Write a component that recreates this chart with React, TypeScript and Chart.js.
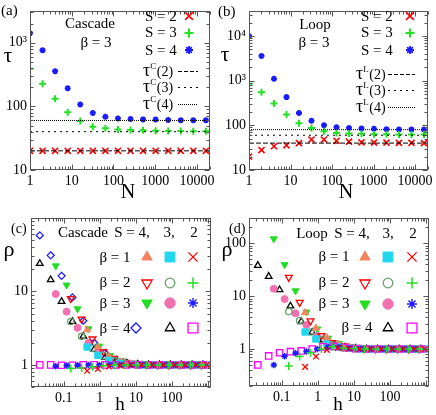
import React, { useEffect, useRef } from 'react';
import { Chart, registerables } from 'chart.js';
Chart.register(...registerables);

const FONT = "'Liberation Serif','Times New Roman',Times,serif";

// ---------- Panels (a), (b): tau vs N ----------
const N_VALUES = [1, 2, 4, 8, 16, 32, 64, 128, 256, 512, 1024, 2048, 4096, 8192, 16384];
const CASCADE_S2 = [20, 20, 20, 20, 20, 20, 20, 20, 20, 20, 20, 20, 20, 20, 20];
const CASCADE_S3 = [391, 226, 132, 80.5, 59, 48, 45.4, 43.4, 42.4, 42, 41.5, 41, 41, 40.5, 40.5];
const CASCADE_S4 = [1410, 760, 357, 192, 107, 78.7, 68.5, 64.6, 63.2, 62.4, 61.9, 61, 60.5, 60.5, 60.5];
const CASCADE_TAU = [20, 40, 60];
const LOOP_S2 = [20, 28, 34, 35.7, 40, 48, 48, 45, 43, 41.5, 41, 41, 40.5, 40.5, 40];
const LOOP_S3 = [850, 547, 309, 174, 112, 87.6, 73.4, 67.6, 65.4, 64.4, 63.5, 63, 62, 62, 62];
const LOOP_S4 = [10000, 3575, 1100, 428, 189, 126, 101, 90.6, 87.6, 85, 83.4, 82, 81, 81, 80.5];
const LOOP_TAU = [40, 60, 80];

// ---------- Panels (c), (d): rho vs h ----------
const H_BETA4 = [0.0219, 0.0438, 0.0876, 0.175, 0.35, 0.7, 1.4, 2.8, 5.6, 11.2, 22.4, 44.9, 89.7, 179, 359, 718];
const H_BETA3 = [0.0607, 0.121, 0.243, 0.486, 0.97, 1.94, 3.9, 7.8, 15.5, 31, 62, 124, 249, 497];
const H_BETA2 = [0.158, 0.316, 0.63, 1.26, 2.5, 5.1, 10.1, 20, 40, 81, 162, 324, 648];
const H_BETA1 = [0.447, 0.89, 1.79, 3.6, 7.2, 14.3, 29, 57, 114, 229, 458, 916];

const C_B4S4 = [58, 31, 16.3, 8.3, 4.0, 2.0, 1.45, 1.18, 1.06, 1.02, 1.0, 1.0, 1.0, 1.0, 1.0, 1.0];
const C_B4S3 = [24, 14.4, 7.3, 3.9, 2.45, 1.62, 1.27, 1.12, 1.05, 1.02, 1.0, 1.0, 1.0, 1.0, 1.0, 1.0];
const C_B4S2 = [1.0, 1.0, 0.99, 0.99, 1.0, 1.0, 1.0, 1.0, 1.0, 1.0, 1.0, 1.0, 1.0, 1.0, 1.0, 1.0];
const C_B3S4 = [22.3, 12.2, 5.8, 3.1, 1.8, 1.34, 1.15, 1.06, 1.02, 1.0, 1.0, 1.0, 1.0, 1.0];
const C_B3S3 = [9.2, 5.3, 3.2, 2.0, 1.5, 1.23, 1.1, 1.04, 1.01, 1.0, 1.0, 1.0, 1.0, 1.0];
const C_B3S2 = [0.96, 0.98, 0.99, 1.0, 1.0, 1.0, 1.0, 1.0, 1.0, 1.0, 1.0, 1.0, 1.0, 1.0];
const C_B2S4 = [8.0, 4.2, 2.25, 1.52, 1.23, 1.08, 1.03, 1.01, 1.0, 1.0, 1.0, 1.0, 1.0];
const C_B2S3 = [3.9, 2.45, 1.68, 1.34, 1.15, 1.05, 1.02, 1.0, 1.0, 1.0, 1.0, 1.0, 1.0];
const C_B2S2 = [0.89, 0.91, 0.94, 0.97, 0.99, 1.0, 1.0, 1.0, 1.0, 1.0, 1.0, 1.0, 1.0];
const C_B1S4 = [3.0, 1.75, 1.3, 1.1, 1.03, 1.01, 1.0, 1.0, 1.0, 1.0, 1.0, 1.0];
const C_B1S3 = [1.75, 1.35, 1.15, 1.05, 1.01, 1.0, 1.0, 1.0, 1.0, 1.0, 1.0, 1.0];
const C_B1S2 = [0.83, 0.88, 0.95, 0.98, 1.0, 1.0, 1.0, 1.0, 1.0, 1.0, 1.0, 1.0];

const D_B4S3 = [38, 23.6, 13.2, 6.5, 3.3, 2.07, 1.48, 1.2, 1.08, 1.03, 1.0, 1.0, 1.0, 1.0, 1.0, 1.0];
const D_B4S2 = [0.5, 0.74, 0.85, 0.89, 0.92, 1.0, 1.1, 1.12, 1.06, 1.02, 1.0, 1.0, 1.0, 1.0, 1.0, 1.0];
const D_B3S4 = [121, 39.4, 12.6, 5.0, 2.4, 1.6, 1.28, 1.12, 1.05, 1.02, 1.0, 1.0, 1.0, 1.0];
const D_B3S3 = [13.8, 8.8, 4.75, 2.85, 1.76, 1.34, 1.15, 1.06, 1.02, 1.0, 1.0, 1.0, 1.0, 1.0];
const D_B3S2 = [0.5, 0.73, 0.83, 0.9, 1.0, 1.08, 1.08, 1.04, 1.01, 1.0, 1.0, 1.0, 1.0, 1.0];
const D_B2S4 = [22.6, 7.6, 3.4, 1.8, 1.32, 1.15, 1.06, 1.02, 1.0, 1.0, 1.0, 1.0, 1.0];
const D_B2S3 = [5.1, 3.45, 2.1, 1.48, 1.2, 1.08, 1.03, 1.0, 1.0, 1.0, 1.0, 1.0, 1.0];
const D_B2S2 = [0.48, 0.72, 0.85, 1.0, 1.1, 1.05, 1.02, 1.0, 1.0, 1.0, 1.0, 1.0, 1.0];
const D_B1S4 = [4.9, 2.5, 1.64, 1.25, 1.1, 1.03, 1.0, 1.0, 1.0, 1.0, 1.0, 1.0];
const D_B1S3 = [2.1, 1.55, 1.25, 1.1, 1.03, 1.0, 1.0, 1.0, 1.0, 1.0, 1.0, 1.0];
const D_B1S2 = [0.46, 0.72, 0.96, 1.05, 1.02, 1.0, 1.0, 1.0, 1.0, 1.0, 1.0, 1.0];

// tick labels
const N_TICKS: Record<number, string> = { 1: '1', 10: '10', 100: '100', 1000: '1000', 10000: '10000' };
const TAU_A_TICKS: Record<number, string> = { 10: '10', 100: '100', 1000: '10³' };
const TAU_B_TICKS: Record<number, string> = { 10: '10', 100: '100', 1000: '10³', 10000: '10⁴' };
const H_TICKS: Record<number, string> = { 0.1: '0.1', 1: '1', 10: '10', 100: '100' };
const RHO_C_TICKS: Record<number, string> = { 1: '1', 10: '10' };
const RHO_D_TICKS: Record<number, string> = { 1: '1', 10: '10', 100: '100' };

type Mk = { style: string; rotation?: number; fill: string; stroke: string; lw: number; r: number; lr: number };
const NONE = 'rgba(0,0,0,0)';
const MK: Record<string, Mk> = {
  s2: { style: 'crossRot', fill: NONE, stroke: '#ff0000', lw: 1.6, r: 4.3, lr: 5.5 },
  s3: { style: 'cross', fill: NONE, stroke: '#22e022', lw: 2, r: 3.5, lr: 4.5 },
  s4: { style: 'star', fill: NONE, stroke: '#1a1aff', lw: 1.8, r: 3, lr: 4 },
  b1s4: { style: 'triangle', fill: '#f4845f', stroke: '#f4845f', lw: 1, r: 4, lr: 6 },
  b1s3: { style: 'rect', fill: '#22d6ee', stroke: '#22d6ee', lw: 1, r: 4.5, lr: 7 },
  b1s2: { style: 'crossRot', fill: NONE, stroke: '#ff0000', lw: 1.3, r: 4, lr: 6.5 },
  b2s4: { style: 'triangle', rotation: 180, fill: NONE, stroke: '#ff0000', lw: 1.3, r: 4, lr: 6 },
  b2s3: { style: 'circle', fill: NONE, stroke: '#6b9e6b', lw: 1.3, r: 3.2, lr: 4.8 },
  b2s2: { style: 'cross', fill: NONE, stroke: '#22dd22', lw: 1.5, r: 4, lr: 5.5 },
  b3s4: { style: 'triangle', rotation: 180, fill: '#22dd22', stroke: '#22dd22', lw: 1, r: 4, lr: 6 },
  b3s3: { style: 'circle', fill: '#f070b0', stroke: '#f070b0', lw: 1, r: 3.5, lr: 5.2 },
  b3s2: { style: 'star', fill: NONE, stroke: '#1a1aff', lw: 1.4, r: 3.2, lr: 5 },
  b4s4: { style: 'rectRot', fill: NONE, stroke: '#1a1aff', lw: 1.3, r: 3.5, lr: 5 },
  b4s3: { style: 'triangle', fill: NONE, stroke: '#000000', lw: 1.3, r: 3.8, lr: 5.5 },
  b4s2: { style: 'rect', fill: NONE, stroke: '#ff00ff', lw: 1.3, r: 4.5, lr: 7 },
};

function drawMarker(ctx: CanvasRenderingContext2D, m: Mk, x: number, y: number, r: number) {
  ctx.save();
  ctx.translate(x, y);
  if (m.rotation) ctx.rotate((m.rotation * Math.PI) / 180);
  ctx.lineWidth = m.lw;
  ctx.strokeStyle = m.stroke;
  ctx.fillStyle = m.fill;
  ctx.setLineDash([]);
  ctx.beginPath();
  const c = Math.SQRT1_2 * r;
  switch (m.style) {
    case 'circle': ctx.arc(0, 0, r, 0, Math.PI * 2); break;
    case 'triangle':
      ctx.moveTo(0, -r);
      ctx.lineTo(r * Math.sin((2 * Math.PI) / 3), -r * Math.cos((2 * Math.PI) / 3));
      ctx.lineTo(r * Math.sin((4 * Math.PI) / 3), -r * Math.cos((4 * Math.PI) / 3));
      ctx.closePath();
      break;
    case 'rect': ctx.rect(-c, -c, 2 * c, 2 * c); break;
    case 'rectRot': ctx.moveTo(-r, 0); ctx.lineTo(0, -r); ctx.lineTo(r, 0); ctx.lineTo(0, r); ctx.closePath(); break;
    case 'cross': ctx.moveTo(0, -r); ctx.lineTo(0, r); ctx.moveTo(-r, 0); ctx.lineTo(r, 0); break;
    case 'crossRot': ctx.moveTo(-c, -c); ctx.lineTo(c, c); ctx.moveTo(c, -c); ctx.lineTo(-c, c); break;
    case 'star':
      ctx.moveTo(0, -r); ctx.lineTo(0, r); ctx.moveTo(-r, 0); ctx.lineTo(r, 0);
      ctx.moveTo(-c, -c); ctx.lineTo(c, c); ctx.moveTo(c, -c); ctx.lineTo(-c, c);
      break;
  }
  if (['circle', 'triangle', 'rect', 'rectRot'].includes(m.style) && m.fill !== NONE) ctx.fill();
  ctx.stroke();
  ctx.restore();
}

type Txt = { t: string; x: number; y: number; s: number; a?: CanvasTextAlign };
type LegMk = { k: string; x: number; y: number };
type TauLab = { x: number; y: number; sup: string; arg: string; dash: number[]; x1: number; x2: number };

type PanelCfg = {
  left: number; top: number; w: number; h: number;
  area: { l: number; r: number; t: number; b: number };
  x: { min: number; max: number; labels: Record<number, string> };
  y: { min: number; max: number; labels: Record<number, string> };
  datasets: any[];
  texts: Txt[];
  markers: LegMk[];
  taus: TauLab[];
};

const pts = (xs: number[], ys: number[]) => xs.map((x, i) => ({ x, y: ys[i] }));
const markDs = (xs: number[], ys: number[], k: string) => {
  const m = MK[k];
  return {
    data: pts(xs, ys), showLine: false,
    pointStyle: m.style, pointRotation: m.rotation || 0, pointRadius: m.r, pointHoverRadius: m.r,
    pointBackgroundColor: m.fill, pointBorderColor: m.stroke, pointBorderWidth: m.lw,
  };
};
const lineDs = (xmin: number, xmax: number, y: number, dash: number[]) => ({
  data: [{ x: xmin, y }, { x: xmax, y }], showLine: true, borderColor: '#000', borderWidth: 1,
  borderDash: dash, pointRadius: 0, fill: false,
});

function logTicks(min: number, max: number) {
  const out: [number, boolean][] = [];
  for (let d = Math.floor(Math.log10(min)) - 1; d <= Math.ceil(Math.log10(max)); d++) {
    for (let m = 1; m <= 9; m++) {
      const v = m * Math.pow(10, d);
      if (v >= min * 0.9999 && v <= max * 1.0001) out.push([v, m === 1]);
    }
  }
  return out;
}

function makeDeco(cfg: PanelCfg) {
  return {
    id: 'deco',
    afterDatasetsDraw(chart: any) {
      const ctx: CanvasRenderingContext2D = chart.ctx;
      const a = chart.chartArea;
      const L = Math.round(a.left) + 0.5, R = Math.round(a.right) - 0.5;
      const T = Math.round(a.top) + 0.5, B = Math.round(a.bottom) - 0.5;
      ctx.save();
      ctx.strokeStyle = '#555';
      ctx.lineWidth = 1;
      ctx.setLineDash([]);
      ctx.strokeRect(L, T, R - L, B - T);
      const xs = chart.scales.x, ys = chart.scales.y;
      ctx.beginPath();
      for (const [v, major] of logTicks(cfg.x.min, cfg.x.max)) {
        const p = Math.round(xs.getPixelForValue(v)) + 0.5;
        const len = major ? 5 : 3;
        ctx.moveTo(p, B); ctx.lineTo(p, B - len);
        ctx.moveTo(p, T); ctx.lineTo(p, T + len);
      }
      for (const [v, major] of logTicks(cfg.y.min, cfg.y.max)) {
        const p = Math.round(ys.getPixelForValue(v)) + 0.5;
        const len = major ? 5 : 3;
        ctx.moveTo(L, p); ctx.lineTo(L + len, p);
        ctx.moveTo(R, p); ctx.lineTo(R - len, p);
      }
      ctx.stroke();

      ctx.fillStyle = '#000';
      ctx.textBaseline = 'middle';
      for (const t of cfg.texts) {
        ctx.font = `${t.s}px ${FONT}`;
        ctx.textAlign = t.a || 'center';
        ctx.fillText(t.t, t.x, t.y);
      }
      for (const m of cfg.markers) drawMarker(ctx, MK[m.k], m.x, m.y, MK[m.k].lr);
      for (const lab of cfg.taus) {
        let x = lab.x;
        const base = lab.y + 5;
        ctx.textAlign = 'left';
        ctx.textBaseline = 'alphabetic';
        ctx.fillStyle = '#000';
        ctx.font = `18px ${FONT}`;
        ctx.fillText('τ', x, base);
        x += ctx.measureText('τ').width;
        ctx.font = `9px ${FONT}`;
        ctx.fillText(lab.sup, x, base - 7);
        x += ctx.measureText(lab.sup).width + 0.5;
        ctx.font = `14px ${FONT}`;
        ctx.fillText(lab.arg, x, base);
        ctx.strokeStyle = '#000';
        ctx.lineWidth = 1;
        ctx.setLineDash(lab.dash);
        ctx.beginPath();
        ctx.moveTo(lab.x1, Math.round(lab.y) + 0.5);
        ctx.lineTo(lab.x2, Math.round(lab.y) + 0.5);
        ctx.stroke();
        ctx.setLineDash([]);
      }
      ctx.restore();
    },
  };
}

function buildConfig(cfg: PanelCfg): any {
  const axis = (spec: { min: number; max: number; labels: Record<number, string> }, isX: boolean) => ({
    type: 'logarithmic',
    min: spec.min,
    max: spec.max,
    grid: { display: false, drawTicks: false },
    border: { display: false },
    afterBuildTicks: (s: any) => {
      s.ticks = Object.keys(spec.labels).map((k) => ({ value: Number(k) }));
    },
    afterFit: (s: any) => {
      if (isX) s.height = cfg.h - cfg.area.b;
      else s.width = cfg.area.l;
    },
    ticks: {
      autoSkip: false,
      maxRotation: 0,
      minRotation: 0,
      padding: 3,
      color: '#000',
      font: { family: FONT, size: 14 },
      callback: (v: any) => {
        const key = Object.keys(spec.labels).find((k) => Math.abs(Number(k) - Number(v)) / Number(k) < 1e-6);
        return key !== undefined ? spec.labels[Number(key)] : '';
      },
    },
  });
  return {
    type: 'scatter',
    data: { datasets: cfg.datasets },
    options: {
      responsive: false,
      animation: false,
      devicePixelRatio: 1,
      layout: { autoPadding: false, padding: { left: 0, top: cfg.area.t, right: cfg.w - cfg.area.r, bottom: 0 } },
      plugins: { legend: { display: false }, tooltip: { enabled: false }, title: { display: false } },
      scales: { x: axis(cfg.x, true), y: axis(cfg.y, false) },
    },
    plugins: [makeDeco(cfg)],
  };
}

const NX_MIN = 1, NX_MAX = 20000;

const PANELS: PanelCfg[] = [
  {
    left: 0, top: 0, w: 218, h: 205,
    area: { l: 30, r: 210, t: 3, b: 170 },
    x: { min: NX_MIN, max: NX_MAX, labels: N_TICKS },
    y: { min: 10, max: 3100, labels: TAU_A_TICKS },
    datasets: [
      lineDs(NX_MIN, NX_MAX, CASCADE_TAU[0], [5, 2]),
      lineDs(NX_MIN, NX_MAX, CASCADE_TAU[1], [2, 4]),
      lineDs(NX_MIN, NX_MAX, CASCADE_TAU[2], [1, 1]),
      markDs(N_VALUES, CASCADE_S2, 's2'),
      markDs(N_VALUES, CASCADE_S3, 's3'),
      markDs(N_VALUES, CASCADE_S4, 's4'),
    ],
    texts: [
      { t: '(a)', x: 1, y: 11, s: 15, a: 'left' },
      { t: 'Cascade', x: 90, y: 24, s: 15 },
      { t: 'β = 3', x: 96, y: 43, s: 15 },
      { t: 'S = 2', x: 145, y: 17, s: 15, a: 'left' },
      { t: 'S = 3', x: 145, y: 33, s: 15, a: 'left' },
      { t: 'S = 4', x: 145, y: 51, s: 15, a: 'left' },
      { t: 'τ', x: 8, y: 56, s: 21 },
      { t: 'N', x: 128, y: 193, s: 20 },
    ],
    markers: [{ k: 's2', x: 189, y: 16 }, { k: 's3', x: 189, y: 33 }, { k: 's4', x: 189, y: 50 }],
    taus: [
      { x: 143, y: 71, sup: 'C', arg: '(2)', dash: [4, 2], x1: 178, x2: 198 },
      { x: 143, y: 87, sup: 'C', arg: '(3)', dash: [2, 4], x1: 178, x2: 198 },
      { x: 143, y: 104, sup: 'C', arg: '(4)', dash: [1, 1], x1: 178, x2: 198 },
    ],
  },
  {
    left: 218, top: 0, w: 218, h: 205,
    area: { l: 31, r: 212, t: 3, b: 170 },
    x: { min: NX_MIN, max: NX_MAX, labels: N_TICKS },
    y: { min: 10, max: 35500, labels: TAU_B_TICKS },
    datasets: [
      lineDs(NX_MIN, NX_MAX, LOOP_TAU[0], [5, 2]),
      lineDs(NX_MIN, NX_MAX, LOOP_TAU[1], [2, 4]),
      lineDs(NX_MIN, NX_MAX, LOOP_TAU[2], [1, 1]),
      markDs(N_VALUES, LOOP_S2, 's2'),
      markDs(N_VALUES, LOOP_S3, 's3'),
      markDs(N_VALUES, LOOP_S4, 's4'),
    ],
    texts: [
      { t: '(b)', x: 0, y: 12, s: 15, a: 'left' },
      { t: 'Loop', x: 97, y: 25, s: 15 },
      { t: 'β = 3', x: 96, y: 43, s: 15 },
      { t: 'S = 2', x: 143, y: 17, s: 15, a: 'left' },
      { t: 'S = 3', x: 143, y: 33, s: 15, a: 'left' },
      { t: 'S = 4', x: 143, y: 51, s: 15, a: 'left' },
      { t: 'τ', x: 7, y: 55, s: 21 },
      { t: 'N', x: 128, y: 193, s: 20 },
    ],
    markers: [{ k: 's2', x: 192, y: 16 }, { k: 's3', x: 192, y: 33 }, { k: 's4', x: 192, y: 50 }],
    taus: [
      { x: 138, y: 74, sup: 'L', arg: '(2)', dash: [4, 2], x1: 170, x2: 197 },
      { x: 138, y: 90, sup: 'L', arg: '(3)', dash: [2, 4], x1: 170, x2: 197 },
      { x: 138, y: 107, sup: 'L', arg: '(4)', dash: [1, 1], x1: 170, x2: 197 },
    ],
  },
  {
    left: 0, top: 205, w: 218, h: 210,
    area: { l: 31, r: 211, t: 13, b: 182 },
    x: { min: 0.0125, max: 1200, labels: H_TICKS },
    y: { min: 0.5, max: 100, labels: RHO_C_TICKS },
    datasets: [
      markDs(H_BETA1, C_B1S2, 'b1s2'),
      markDs(H_BETA2, C_B2S2, 'b2s2'),
      markDs(H_BETA3, C_B3S2, 'b3s2'),
      markDs(H_BETA4, C_B4S2, 'b4s2'),
      markDs(H_BETA1, C_B1S3, 'b1s3'),
      markDs(H_BETA1, C_B1S4, 'b1s4'),
      markDs(H_BETA2, C_B2S3, 'b2s3'),
      markDs(H_BETA2, C_B2S4, 'b2s4'),
      markDs(H_BETA3, C_B3S3, 'b3s3'),
      markDs(H_BETA3, C_B3S4, 'b3s4'),
      markDs(H_BETA4, C_B4S3, 'b4s3'),
      markDs(H_BETA4, C_B4S4, 'b4s4'),
    ],
    texts: [
      { t: '(c)', x: 11, y: 24, s: 14, a: 'left' },
      { t: 'Cascade', x: 83, y: 28, s: 15 },
      { t: 'S = 4,', x: 132, y: 28, s: 15 },
      { t: '3,', x: 169, y: 28, s: 15 },
      { t: '2', x: 194, y: 28, s: 15 },
      { t: 'β = 1', x: 115, y: 53, s: 15 },
      { t: 'β = 2', x: 115, y: 78, s: 15 },
      { t: 'β = 3', x: 115, y: 99, s: 15 },
      { t: 'β = 4', x: 115, y: 124, s: 15 },
      { t: 'ρ', x: 9, y: 45, s: 22 },
      { t: 'h', x: 120, y: 200, s: 19 },
    ],
    markers: [
      { k: 'b1s4', x: 147, y: 52 }, { k: 'b1s3', x: 170, y: 52 }, { k: 'b1s2', x: 193, y: 52 },
      { k: 'b2s4', x: 147, y: 78 }, { k: 'b2s3', x: 170, y: 78 }, { k: 'b2s2', x: 193, y: 78 },
      { k: 'b3s4', x: 147, y: 98 }, { k: 'b3s3', x: 170, y: 98 }, { k: 'b3s2', x: 193, y: 98 },
      { k: 'b4s4', x: 136, y: 123 }, { k: 'b4s3', x: 170, y: 123 }, { k: 'b4s2', x: 193, y: 123 },
    ],
    taus: [],
  },
  {
    left: 218, top: 205, w: 218, h: 210,
    area: { l: 31, r: 211, t: 13, b: 181 },
    x: { min: 0.0125, max: 1200, labels: H_TICKS },
    y: { min: 0.2, max: 300, labels: RHO_D_TICKS },
    datasets: [
      markDs(H_BETA1, D_B1S2, 'b1s2'),
      markDs(H_BETA2, D_B2S2, 'b2s2'),
      markDs(H_BETA3, D_B3S2, 'b3s2'),
      markDs(H_BETA4, D_B4S2, 'b4s2'),
      markDs(H_BETA1, D_B1S3, 'b1s3'),
      markDs(H_BETA1, D_B1S4, 'b1s4'),
      markDs(H_BETA2, D_B2S3, 'b2s3'),
      markDs(H_BETA2, D_B2S4, 'b2s4'),
      markDs(H_BETA3, D_B3S3, 'b3s3'),
      markDs(H_BETA3, D_B3S4, 'b3s4'),
      markDs(H_BETA4, D_B4S3, 'b4s3'),
    ],
    texts: [
      { t: '(d)', x: 11, y: 24, s: 14, a: 'left' },
      { t: 'Loop', x: 94, y: 29, s: 15 },
      { t: 'S = 4,', x: 134, y: 29, s: 15 },
      { t: '3,', x: 170, y: 29, s: 15 },
      { t: '2', x: 195, y: 29, s: 15 },
      { t: 'β = 1', x: 116, y: 52, s: 15 },
      { t: 'β = 2', x: 116, y: 78, s: 15 },
      { t: 'β = 3', x: 116, y: 99, s: 15 },
      { t: 'β = 4', x: 139, y: 123, s: 15 },
      { t: 'ρ', x: 9, y: 45, s: 22 },
      { t: 'h', x: 120, y: 200, s: 19 },
    ],
    markers: [
      { k: 'b1s4', x: 147, y: 52 }, { k: 'b1s3', x: 170, y: 52 }, { k: 'b1s2', x: 194, y: 52 },
      { k: 'b2s4', x: 147, y: 78 }, { k: 'b2s3', x: 170, y: 78 }, { k: 'b2s2', x: 194, y: 78 },
      { k: 'b3s4', x: 147, y: 99 }, { k: 'b3s3', x: 170, y: 99 }, { k: 'b3s2', x: 194, y: 99 },
      { k: 'b4s3', x: 170, y: 123 }, { k: 'b4s2', x: 194, y: 123 },
    ],
    taus: [],
  },
];

function Panel({ cfg }: { cfg: PanelCfg }) {
  const ref = useRef<HTMLCanvasElement>(null);
  useEffect(() => {
    if (!ref.current) return;
    const chart = new Chart(ref.current, buildConfig(cfg));
    return () => chart.destroy();
  }, [cfg]);
  return (
    <div style={{ position: 'absolute', left: cfg.left, top: cfg.top, width: cfg.w, height: cfg.h }}>
      <canvas ref={ref} width={cfg.w} height={cfg.h} style={{ display: 'block' }} />
    </div>
  );
}

export default function App() {
  return (
    <div style={{ position: 'absolute', left: 0, top: 0, width: 436, height: 415, background: '#fff', overflow: 'hidden' }}>
      {PANELS.map((p, i) => (
        <Panel key={i} cfg={p} />
      ))}
    </div>
  );
}
